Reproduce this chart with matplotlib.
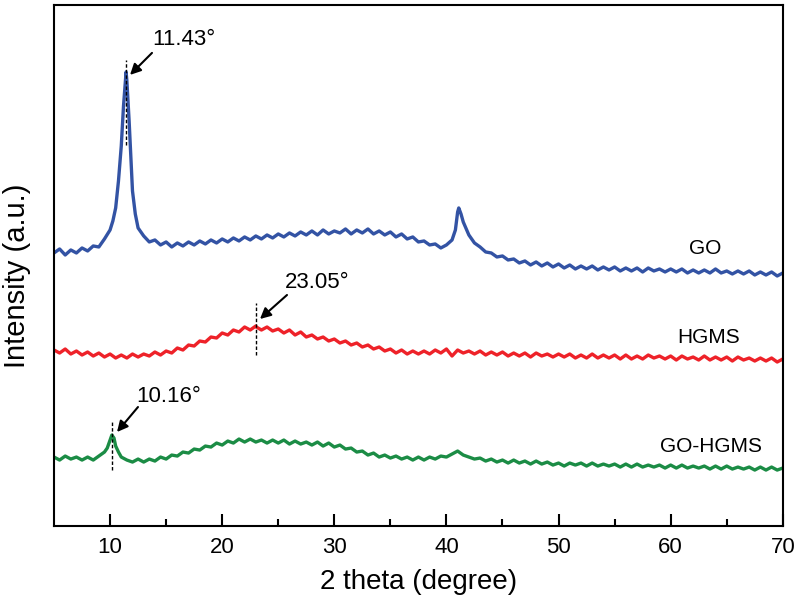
import matplotlib
matplotlib.use("Agg")
import matplotlib.pyplot as plt
import numpy as np

plt.rcParams['font.family'] = ['Liberation Sans', 'DejaVu Sans']

# 2 theta grid, 0.5 degree steps from 5 to 70
two_theta = np.arange(5, 70.01, 0.5)

go_y = [273, 277, 271, 276, 273, 278, 275, 280, 279, 287,
        296, 318, 380, 445, 335, 298, 290, 284, 286, 281,
        284, 279, 283, 280, 284, 281, 285, 282, 286, 283,
        287, 284, 288, 285, 289, 286, 290, 287, 291, 288,
        292, 289, 293, 290, 294, 291, 295, 291, 296, 292,
        295, 293, 297, 292, 296, 293, 297, 292, 295, 291,
        294, 289, 292, 287, 289, 284, 285, 281, 282, 278,
        281, 286, 314, 304, 291, 283, 279, 274, 273, 269,
        270, 266, 267, 263, 265, 261, 264, 260, 263, 259,
        262, 258, 261, 257, 260, 257, 260, 256, 259, 256,
        259, 255, 258, 255, 258, 254, 258, 255, 257, 254,
        257, 254, 257, 253, 256, 253, 256, 253, 257, 253,
        255, 252, 255, 252, 255, 251, 254, 251, 254, 250,
        253]

hgms_y = [176, 173, 177, 172, 175, 171, 174, 170, 173, 169,
          172, 168, 171, 168, 172, 169, 172, 170, 174, 171,
          175, 173, 178, 176, 181, 180, 185, 184, 189, 188,
          193, 191, 196, 194, 199, 196, 200, 196, 199, 195,
          197, 193, 196, 191, 194, 189, 191, 187, 189, 185,
          187, 183, 185, 181, 183, 179, 181, 177, 179, 175,
          177, 173, 176, 172, 175, 172, 175, 172, 176, 173,
          177, 170, 176, 173, 175, 172, 175, 171, 174, 171,
          174, 170, 173, 170, 173, 169, 173, 170, 172, 169,
          172, 169, 172, 168, 171, 168, 172, 168, 171, 168,
          171, 167, 171, 167, 170, 167, 171, 168, 170, 167,
          170, 166, 170, 167, 169, 166, 170, 166, 169, 166,
          169, 165, 169, 166, 168, 165, 168, 165, 168, 164,
          167]

gohgms_y = [69, 66, 70, 67, 69, 66, 69, 66, 70, 74,
            86, 80, 69, 66, 64, 67, 64, 67, 65, 69,
            67, 71, 70, 74, 73, 77, 76, 80, 79, 83,
            81, 85, 83, 87, 84, 87, 84, 86, 83, 86,
            83, 86, 82, 85, 82, 84, 81, 84, 80, 83,
            79, 81, 77, 78, 74, 75, 71, 73, 69, 71,
            68, 70, 67, 69, 66, 69, 66, 69, 67, 70,
            69, 72, 75, 71, 69, 67, 68, 65, 67, 64,
            66, 63, 66, 63, 65, 62, 65, 62, 64, 61,
            63, 60, 63, 61, 63, 60, 63, 60, 62, 60,
            62, 59, 62, 59, 62, 59, 61, 59, 61, 58,
            61, 58, 61, 58, 60, 58, 60, 57, 60, 57,
            60, 57, 59, 57, 59, 56, 59, 56, 59, 56,
            58]

# extra points around the sharp peaks
go_peak_x = [10.25, 10.75, 11.2, 11.43, 11.7, 12.25, 40.8, 41.1, 41.3]
go_peak_y = [305, 345, 420, 454, 405, 312, 296, 318, 312]
hgms_peak_x = [23.05]
hgms_peak_y = [199]
gohgms_peak_x = [9.75, 10.16, 10.35, 10.75]
gohgms_peak_y = [78, 91, 88, 74]

names = ['GO', 'HGMS', 'GO-HGMS']
colors = ['#3353A4', '#EE2229', '#1B8C45']
peak_pos = [11.43, 23.05, 10.16]
peak_labels = ['11.43\u00b0', '23.05\u00b0', '10.16\u00b0']


def merge(base, px, py):
    x = np.concatenate([two_theta, px])
    y = np.concatenate([np.array(base, float), py])
    order = np.argsort(x, kind='stable')
    return x[order], y[order]


series = [merge(go_y, go_peak_x, go_peak_y),
          merge(hgms_y, hgms_peak_x, hgms_peak_y),
          merge(gohgms_y, gohgms_peak_x, gohgms_peak_y)]

fig = plt.figure(figsize=(8, 6.11), dpi=100)
ax = fig.add_axes([0.0675, 0.139, 0.911, 0.853])

for (x, y), c in zip(series, colors):
    ax.plot(x, y, color=c, lw=2.4)

ax.set_xlim(5, 70)
ax.set_ylim(0, 521)

# dashed markers at the peak positions
dash_spans = [(381, 466), (171, 223), (56, 104)]
for xp, (y0, y1) in zip(peak_pos, dash_spans):
    ax.plot([xp, xp], [y0, y1], color='k', lw=1.0, dashes=(2.5, 1.5))

text_pos = [(16.6, 486), (28.5, 243), (15.2, 130)]
arrow_tail = [(13.74, 473), (25.78, 231), (12.49, 119)]
arrow_tip = [(11.78, 451), (23.37, 207), (10.62, 94)]
for lab, tp, tail, tip in zip(peak_labels, text_pos, arrow_tail, arrow_tip):
    ax.text(tp[0], tp[1], lab, fontsize=16, ha='center', va='center')
    ax.annotate('', xy=tip, xytext=tail,
                arrowprops=dict(arrowstyle='-|>', color='k', lw=1.5,
                                mutation_scale=16, shrinkA=0, shrinkB=0))

label_pos = [(63.1, 277), (63.4, 189), (63.6, 80)]
for name, (lx, ly) in zip(names, label_pos):
    ax.text(lx, ly, name, fontsize=15, ha='center', va='center')

ax.set_xticks(np.arange(10, 71, 10))
ax.set_xticks(np.arange(15, 70, 10), minor=True)
ax.set_yticks([])
ax.tick_params(axis='x', which='major', direction='in', length=8.6, width=1.5,
               labelsize=16, pad=8)
ax.tick_params(axis='x', which='minor', direction='in', length=5, width=1.5)
for s in ax.spines.values():
    s.set_linewidth(1.5)

ax.set_xlabel('2 theta (degree)', fontsize=20, labelpad=8)
ax.set_ylabel('Intensity (a.u.)', fontsize=21)
ax.yaxis.set_label_coords(-0.032, 0.48)

fig.savefig('out.png', dpi=100)
